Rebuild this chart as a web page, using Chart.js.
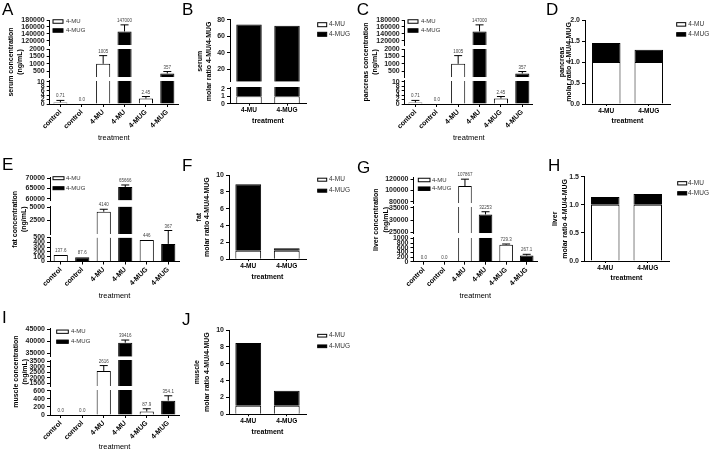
<!DOCTYPE html>
<html>
<head>
<meta charset="utf-8">
<script src="https://cdn.jsdelivr.net/npm/chart.js@4.4.1/dist/chart.umd.min.js"></script>
<style>
  body { margin: 0; background: #fff; width: 713px; height: 452px; position: relative; overflow: hidden; }
  canvas { position: absolute; }
</style>
</head>
<body>
<script>
// ---- data ----
const concCategories = ["control", "control", "4-MU", "4-MU", "4-MUG", "4-MUG"];
const concCompound = ["4-MU", "4-MUG", "4-MU", "4-MUG", "4-MU", "4-MUG"];
const legendLabels = ["4-MU", "4-MUG"];

const serumConc = [0.71, 0.0, 1005, 147000, 2.45, 357];
const serumSD = [0.9, 0, 550, 19000, 0.9, 130];
const serumText = ["0.71", "0.0", "1005", "147000", "2.45", "357"];

const pancreasConc = [0.71, 0.0, 1005, 147000, 2.45, 357];
const pancreasSD = [0.9, 0, 550, 19000, 0.9, 130];
const pancreasText = ["0.71", "0.0", "1005", "147000", "2.45", "357"];

const fatConc = [137.6, 87.6, 4140, 65666, 446, 367];
const fatSD = [0, 0, 450, 1000, 0, 280];
const fatText = ["137.6", "87.6", "4140", "65666", "446", "367"];

const liverConc = [0.0, 0.0, 107867, 32253, 729.3, 267.1];
const liverSD = [0, 0, 12500, 1100, 30, 50];
const liverText = ["0.0", "0.0", "107867", "32253", "729.3", "267.1"];

const muscleConc = [0.0, 0.0, 2616, 39416, 87.9, 354.1];
const muscleSD = [0, 0, 480, 1100, 66, 120];
const muscleText = ["0.0", "0.0", "2616", "39416", "87.9", "354.1"];

const ratioCategories = ["4-MU", "4-MUG"];
const ratioMUPart = [1, 1];
const serumRatio = [74.5, 73.0];
const pancreasRatio = [1.45, 1.29];
const fatRatio = [8.9, 1.3];
const liverRatio = [1.14, 1.19];
const muscleRatio = [8.45, 2.78];

// tick labels per axis segment, top segment first
const serumTicks = [[120000, 140000, 160000, 180000], [500, 1000, 1500, 2000], [0, 2, 4, 6, 8, 10]];
const fatTicks = [[60000, 65000, 70000], [2500, 5000], [0, 100, 200, 300, 400, 500]];
const liverTicks = [[80000, 100000, 120000], [25000, 30000, 35000], [0, 200, 400, 600, 800, 1000]];
const muscleTicks = [[35000, 40000, 45000], [1500, 2000, 2500, 3000, 3500], [0, 200, 400, 600]];
const serumRatioTicks = [[20, 40, 60, 80], [0, 1, 2]];
const pancreasRatioTicks = [[0, 0.5, 1, 1.5, 2]];
const fatRatioTicks = [[0, 2, 4, 6, 8, 10]];
const liverRatioTicks = [[0, 0.5, 1, 1.5]];
const muscleRatioTicks = [[0, 2, 4, 6, 8, 10]];

// ---- drawing ----
const FONT = "'Liberation Sans', Arial, Helvetica, sans-serif";

// part of a bar [lo, hi] that shows on segment k of a broken axis
function piece(lo, hi, segs, k) {
  const s = segs[k], below = segs[k + 1];
  if (hi <= lo || hi <= s.min || lo >= s.max) return null;
  if (below && hi <= below.max) return null;
  return [Math.max(lo, s.min), Math.min(hi, s.max)];
}

function yFor(chart, segs, v) {
  for (let k = segs.length - 1; k >= 0; k--) {
    const s = segs[k];
    if (v <= s.max || k === 0) {
      return chart.scales["s" + k].getPixelForValue(Math.max(Math.min(v, s.max), s.min));
    }
  }
}

function extras(p) {
  return {
    id: "extras",
    afterDatasetsDraw(chart) {
      if (!p.err) return;
      const ctx = chart.ctx;
      const xs = chart.scales.x;
      ctx.save();
      ctx.strokeStyle = "#000";
      ctx.lineWidth = 1;
      ctx.fillStyle = "#444";
      ctx.font = "4.5px " + FONT;
      ctx.textAlign = "center";
      ctx.textBaseline = "alphabetic";
      p.values.forEach((v, i) => {
        const x = xs.getPixelForValue(i);
        const yBar = yFor(chart, p.segs, v);
        const yTop = yFor(chart, p.segs, v + p.err[i]);
        if (p.err[i] > 0) {
          ctx.beginPath();
          ctx.moveTo(x, yBar);
          ctx.lineTo(x, yTop);
          ctx.moveTo(x - 4, yTop);
          ctx.lineTo(x + 4, yTop);
          ctx.stroke();
        }
        ctx.fillText(p.text[i], x, yTop - 3);
      });
      ctx.restore();
    },
    afterDraw(chart) {
      const ctx = chart.ctx;
      ctx.save();
      ctx.fillStyle = "#000";
      ctx.font = "17px " + FONT;
      ctx.textAlign = "left";
      ctx.textBaseline = "alphabetic";
      ctx.fillText(p.letter[0], p.letter[1] - p.x, p.letter[2] - p.y);
      const lg = p.legend;
      legendLabels.forEach((lab, j) => {
        const cy = lg.y + j * lg.dy - p.y;
        const bx = lg.x - p.x;
        ctx.fillStyle = j === 0 ? "#fff" : "#000";
        ctx.fillRect(bx, cy - lg.h / 2, lg.w, lg.h);
        ctx.strokeStyle = "#000";
        ctx.lineWidth = 1;
        ctx.strokeRect(bx, cy - lg.h / 2, lg.w, lg.h);
        ctx.fillStyle = "#333";
        ctx.font = lg.size + "px " + FONT;
        ctx.textBaseline = "middle";
        ctx.fillText(lab, lg.tx - p.x, cy);
      });
      ctx.restore();
    }
  };
}

function makePanel(p) {
  const cv = document.createElement("canvas");
  cv.width = p.w;
  cv.height = p.h;
  cv.style.left = p.x + "px";
  cv.style.top = p.y + "px";
  cv.style.width = p.w + "px";
  cv.style.height = p.h + "px";
  document.body.appendChild(cv);

  const segs = p.segs;
  const plotL = p.plotL - p.x, plotR = p.plotR - p.x;
  const plotT = segs[0].top - p.y, plotB = segs[segs.length - 1].bottom - p.y;
  const titleLeft = p.titleLeft - p.x;
  const xlh = p.xTitleSize * 1.2;
  const xTitleY = p.xTitleY - p.y;
  const xAxisH = xTitleY + xlh / 2 - plotB;
  const segW = plotL - titleLeft - 1;

  const scales = {};
  scales.x = {
    type: "category",
    position: "bottom",
    offset: true,
    grid: { offset: false, drawOnChartArea: false, drawTicks: true, tickLength: p.xTick, color: "#000" },
    border: { display: true, color: "#000", width: 1 },
    ticks: {
      autoSkip: false, maxRotation: p.rot, minRotation: p.rot, padding: 1, color: "#000",
      font: { family: FONT, size: p.xLabelSize, weight: "bold" }
    },
    title: {
      display: true, text: "treatment", padding: 0, color: "#000",
      font: { family: FONT, size: p.xTitleSize, weight: p.xTitleBold ? "bold" : "normal", lineHeight: 1.2 }
    },
    afterFit: sc => { sc.height = xAxisH; }
  };
  scales.yt = {
    type: "linear", position: "left", weight: 5, min: 0, max: 1,
    ticks: { display: false }, grid: { display: false }, border: { display: false },
    title: {
      display: true, text: p.yTitle, padding: 0, color: "#000",
      font: { family: FONT, size: p.yTitleSize, weight: "bold", lineHeight: p.yTitleLH }
    },
    afterFit: sc => { sc.width = 1; }
  };
  // stacked left axes are placed top-down in reverse declaration order,
  // so declare the bottom segment first
  for (let k = segs.length - 1; k >= 0; k--) {
    const s = segs[k];
    scales["s" + k] = {
      type: "linear", position: "left", stack: "y", stackWeight: s.bottom - s.top,
      weight: 0, min: s.min, max: s.max, bounds: "data",
      afterBuildTicks: sc => { sc.ticks = s.ticks.map(v => ({ value: v })); },
      afterFit: sc => { sc.width = segW; },
      ticks: {
        autoSkip: false, padding: 2, color: "#222",
        font: { family: FONT, size: 7, weight: "bold" },
        callback: v => Number(v).toFixed(p.dec || 0)
      },
      grid: { drawOnChartArea: false, drawTicks: true, tickLength: 3, color: "#000", lineWidth: 1 },
      border: { display: true, color: "#000", width: 1 }
    };
    if (k > 0) {
      scales["g" + k] = {
        type: "linear", position: "left", stack: "y", stackWeight: s.top - segs[k - 1].bottom,
        weight: 0, min: 0, max: 1,
        ticks: { display: false }, grid: { display: false }, border: { display: false },
        afterFit: sc => { sc.width = segW; }
      };
    }
  }

  const datasets = [];
  segs.forEach((s, k) => {
    p.series.forEach(ser => {
      const pcs = ser.hi.map((hi, i) => piece(ser.lo[i], hi, segs, k));
      datasets.push({
        type: "bar",
        yAxisID: "s" + k,
        data: pcs,
        backgroundColor: ser.colors,
        borderColor: "#000",
        borderWidth: c => {
          const pc = pcs[c.dataIndex];
          const top = pc && pc[1] === ser.hi[c.dataIndex] ? 1 : 0;
          return { left: 1, right: 1, bottom: 0, top: top };
        },
        borderSkipped: false,
        grouped: false,
        barPercentage: p.barPct,
        categoryPercentage: 1
      });
    });
  });

  new Chart(cv, {
    type: "bar",
    data: { labels: p.cats, datasets: datasets },
    options: {
      responsive: false,
      animation: false,
      devicePixelRatio: 1,
      layout: {
        padding: { left: titleLeft, top: plotT, right: p.w - plotR, bottom: p.h - (xTitleY + xlh / 2) }
      },
      plugins: { legend: { display: false }, tooltip: { enabled: false } },
      scales: scales
    },
    plugins: [extras(p)]
  });
}

function concSeries(values) {
  return [{
    lo: values.map(() => 0),
    hi: values,
    colors: concCompound.map(c => (c === "4-MU" ? "#fff" : "#000"))
  }];
}

function ratioSeries(total) {
  return [
    { lo: ratioMUPart.map(() => 0), hi: ratioMUPart, colors: "#fff" },
    { lo: ratioMUPart, hi: total, colors: "#000" }
  ];
}

function concPanel(o) {
  return Object.assign({
    cats: concCategories, rot: 45, xTick: 3, xLabelSize: 7, xTitleSize: 7.5, xTitleBold: false,
    yTitleSize: 7, yTitleLH: 1.3, barPct: 0.66
  }, o);
}

function ratioPanel(o) {
  return Object.assign({
    cats: ratioCategories, rot: 0, xTick: 2, xLabelSize: 6.5, xTitleSize: 7, xTitleBold: true,
    yTitleSize: 7, yTitleLH: 1.2, barPct: 0.67
  }, o);
}

function segsFrom(ranges, ticks) {
  return ranges.map((r, k) => ({ min: r[0], max: r[1], top: r[2], bottom: r[3], ticks: ticks[k] }));
}

const panels = [
  concPanel({
    x: 0, y: 0, w: 186, h: 146, plotL: 49.7, plotR: 178, titleLeft: 6.8, xTitleY: 137.7,
    letter: ["A", 2, 15], yTitle: ["serum concentration", "(ng/mL)"],
    segs: segsFrom([[108000, 180000, 20, 45], [100, 2000, 49, 77.3], [0, 10.45, 80.7, 104]], serumTicks),
    series: concSeries(serumConc), values: serumConc, err: serumSD, text: serumText,
    legend: { x: 53, y: 21.5, dy: 9, w: 10, h: 3.5, tx: 66, size: 6 }
  }),
  ratioPanel({
    x: 180, y: 0, w: 175, h: 130, plotL: 230, plotR: 306, titleLeft: 196.3, xTitleY: 120.7,
    letter: ["B", 182, 15], yTitle: ["serum", "molar ratio 4-MU/4-MUG"],
    segs: segsFrom([[4.9, 81.2, 19, 81.7], [0, 2.23, 87, 103.7]], serumRatioTicks),
    series: ratioSeries(serumRatio),
    legend: { x: 317.7, y: 24.7, dy: 9.6, w: 9, h: 4, tx: 329, size: 6.5 }
  }),
  concPanel({
    x: 355.3, y: 0, w: 186, h: 146, plotL: 405, plotR: 533.3, titleLeft: 362.1, xTitleY: 137.7,
    letter: ["C", 357, 15], yTitle: ["pancreas concentration", "(ng/mL)"],
    segs: segsFrom([[108000, 180000, 20, 45], [100, 2000, 49, 77.3], [0, 10.45, 80.7, 104]], serumTicks),
    series: concSeries(pancreasConc), values: pancreasConc, err: pancreasSD, text: pancreasText,
    legend: { x: 408.3, y: 21.5, dy: 9, w: 10, h: 3.5, tx: 421.3, size: 6 }
  }),
  ratioPanel({
    x: 535, y: 0, w: 178, h: 130, plotL: 585, plotR: 670, titleLeft: 557.9, xTitleY: 120.7, dec: 1,
    yTitleLH: 1.1,
    letter: ["D", 546, 15], yTitle: ["pancreas", "molar ratio 4-MU/4-MUG"],
    segs: segsFrom([[0, 2, 20, 104]], pancreasRatioTicks),
    series: ratioSeries(pancreasRatio),
    legend: { x: 676.7, y: 24.4, dy: 10, w: 9, h: 3.5, tx: 688.3, size: 6.5 }
  }),
  concPanel({
    x: 0, y: 152, w: 186, h: 150, plotL: 50, plotR: 179, titleLeft: 10.3, xTitleY: 295.7,
    letter: ["E", 2, 170], yTitle: ["fat concentration", "(ng/mL)"],
    segs: segsFrom([[59200, 70500, 177, 200.5], [0, 5100, 206.5, 234], [0, 500, 237.5, 261.5]], fatTicks),
    series: concSeries(fatConc), values: fatConc, err: fatSD, text: fatText,
    legend: { x: 53, y: 178.2, dy: 10, w: 11, h: 3, tx: 66, size: 6 }
  }),
  ratioPanel({
    x: 180, y: 152, w: 175, h: 135, plotL: 229, plotR: 306, titleLeft: 194.3, xTitleY: 277.3,
    yTitleLH: 1.25,
    letter: ["F", 182, 171], yTitle: ["fat", "molar ratio 4-MU/4-MUG"],
    segs: segsFrom([[0, 10, 175, 259.3]], fatRatioTicks),
    series: ratioSeries(fatRatio),
    legend: { x: 317.7, y: 179.7, dy: 11, w: 9, h: 3, tx: 329, size: 6.5 }
  }),
  concPanel({
    x: 355, y: 152, w: 190, h: 150, plotL: 413.5, plotR: 537, titleLeft: 372, xTitleY: 295.7,
    letter: ["G", 357, 173], yTitle: ["liver concentration", "(ng/mL)"],
    segs: segsFrom([[77000, 123000, 177.7, 203.3], [24600, 35400, 206.7, 233.3], [0, 1030, 237.7, 261.7]], liverTicks),
    series: concSeries(liverConc), values: liverConc, err: liverSD, text: liverText,
    legend: { x: 418.3, y: 180, dy: 8.7, w: 11.7, h: 3.5, tx: 432, size: 6 }
  }),
  ratioPanel({
    x: 535, y: 152, w: 178, h: 135, plotL: 584, plotR: 669, titleLeft: 550.6, xTitleY: 278.3, dec: 1,
    yTitleLH: 1.4,
    letter: ["H", 548, 171], yTitle: ["liver", "molar ratio 4-MU/4-MUG"],
    segs: segsFrom([[0, 1.5, 176.7, 261]], liverRatioTicks),
    series: ratioSeries(liverRatio),
    legend: { x: 677.7, y: 183.3, dy: 10, w: 9, h: 3.3, tx: 688, size: 6.5 }
  }),
  concPanel({
    x: 0, y: 306, w: 186, h: 147, plotL: 50, plotR: 179, titleLeft: 11.6, xTitleY: 446.7,
    letter: ["I", 2, 323], yTitle: ["muscle concentration", "(ng/mL)"],
    segs: segsFrom([[33600, 45400, 328.3, 356.7], [1250, 3600, 360, 386], [0, 617, 390, 415]], muscleTicks),
    series: concSeries(muscleConc), values: muscleConc, err: muscleSD, text: muscleText,
    legend: { x: 56.7, y: 331.7, dy: 10, w: 11.6, h: 3.3, tx: 71, size: 6 }
  }),
  ratioPanel({
    x: 180, y: 306, w: 175, h: 135, plotL: 229, plotR: 306, titleLeft: 192.3, xTitleY: 432.3,
    yTitleLH: 1.45,
    letter: ["J", 182, 325], yTitle: ["muscle", "molar ratio 4-MU/4-MUG"],
    segs: segsFrom([[0, 10, 330, 414.3]], muscleRatioTicks),
    series: ratioSeries(muscleRatio),
    legend: { x: 317.7, y: 335.7, dy: 10.6, w: 9, h: 2.7, tx: 329, size: 6.5 }
  })
];

panels.forEach(makePanel);
</script>
</body>
</html>
